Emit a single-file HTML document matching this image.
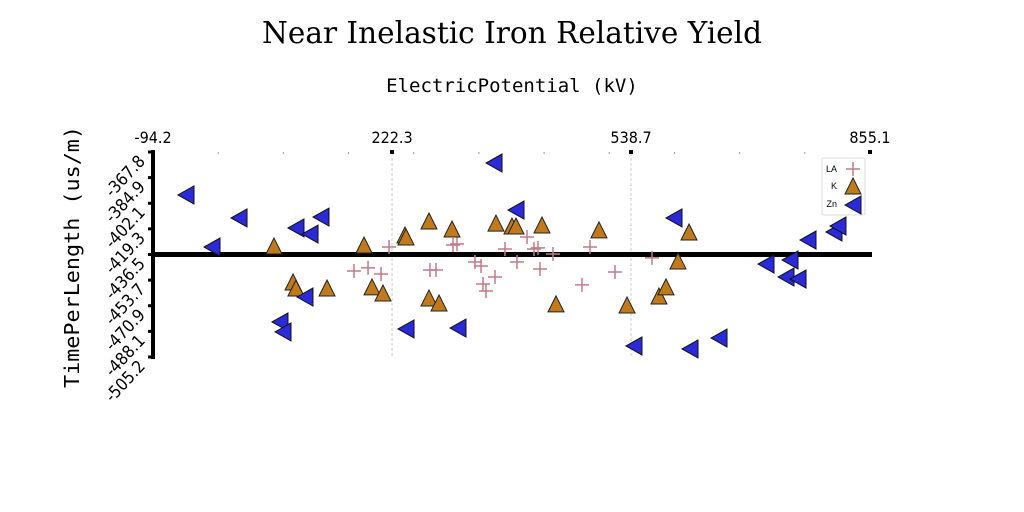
<!DOCTYPE html>
<html><head><meta charset="utf-8"><style>
body{margin:0;background:#fff;width:1024px;height:512px;overflow:hidden}
svg{display:block}
</style></head><body>
<svg id="c" width="1024" height="512" xmlns="http://www.w3.org/2000/svg">
<text x="512" y="43" text-anchor="middle" font-family="DejaVu Serif, serif" font-size="30" textLength="500" lengthAdjust="spacingAndGlyphs">Near Inelastic Iron Relative Yield</text>
<text x="512" y="92" text-anchor="middle" font-family="DejaVu Sans Mono, monospace" font-size="19">ElectricPotential (kV)</text>
<text transform="translate(79,257) rotate(-90)" text-anchor="middle" font-family="DejaVu Sans Mono, monospace" font-size="20" textLength="262" lengthAdjust="spacingAndGlyphs">TimePerLength (us/m)</text>
<g id="axes"></g><g id="marks"></g>
<g>
<rect x="822" y="158" width="43" height="57" rx="2" fill="#fff" stroke="#ddd"/>
<text x="837" y="172" text-anchor="end" font-family="Liberation Sans, sans-serif" font-size="9">LA</text>
<text x="837" y="189" text-anchor="end" font-family="Liberation Sans, sans-serif" font-size="9">K</text>
<text x="837" y="207" text-anchor="end" font-family="Liberation Sans, sans-serif" font-size="9">Zn</text>
<g id="leg"></g>
</g>
</svg>
<script>
const xTicks=["-94.2","222.3","538.7","855.1"];
const xTickVals=[-94.2,222.3,538.7,855.1];
const yTicks=["-367.8","-384.9","-402.1","-419.3","-436.5","-453.7","-470.9","-488.1","-505.2"];
const laX=[171.9,190.5,207.7,218.3,272.5,280.5,303.0,308.3,332.1,340.1,342.7,346.7,358.6,371.8,387.7,401.0,410.2,415.5,418.2,435.4,473.8,484.4,517.5,566.5];
const laY=[-447.6,-445.5,-449.6,-431.5,-446.9,-446.9,-430.1,-429.5,-441.5,-444.2,-456.3,-461.0,-451.6,-432.8,-441.5,-424.8,-432.8,-432.1,-446.2,-436.2,-456.9,-431.5,-448.2,-438.8];
const kX=[66.0,91.2,95.1,136.2,185.2,195.8,210.3,239.4,240.8,271.2,271.2,284.5,301.7,359.9,381.1,386.4,420.8,439.4,496.3,533.4,575.7,585.0,600.9,615.5];
const kY=[-431.5,-455.6,-459.6,-459.6,-430.8,-458.9,-463.0,-424.1,-425.4,-414.7,-466.3,-469.7,-420.1,-416.1,-418.1,-418.1,-417.4,-470.3,-420.7,-471.0,-465.0,-458.9,-441.5,-422.1];
const znX=[-50.5,-16.1,19.7,95.1,113.7,128.2,73.9,77.9,107.0,240.8,309.6,357.3,386.4,542.6,595.6,616.8,655.2,717.4,749.2,743.9,759.8,773.0,807.4,812.7];
const znY=[-396.6,-431.5,-412.0,-418.7,-422.8,-411.4,-481.7,-488.4,-465.0,-486.4,-485.8,-375.2,-406.7,-497.8,-412.0,-499.8,-492.5,-442.9,-440.2,-451.6,-452.9,-426.8,-421.4,-417.4];
const refY=-436.5;
const X0=153,X1=870,Y0=152,Y1=357,xMin=-94.2,xMax=855.1,yTop=-367.8,yBot=-505.2;
const sx=v=>X0+(v-xMin)/(xMax-xMin)*(X1-X0);
const sy=v=>Y0+(yTop-v)/(yTop-yBot)*(Y1-Y0);
const NS="http://www.w3.org/2000/svg";
function mk(t,a,p){const e=document.createElementNS(NS,t);for(const k in a)e.setAttribute(k,a[k]);p.appendChild(e);return e;}
const ax=document.getElementById('axes'),mg=document.getElementById('marks'),lg=document.getElementById('leg');
for(let i=0;i<=11;i++){const e=mk('rect',{x:X0+i*(X1-X0)/11-0.5,y:152,width:1,height:2,fill:'#999'},ax);

}
xTicks.forEach((t,i)=>{const x=sx(xTickVals[i]);
if(i>0&&i<xTicks.length-1){const g=mk('line',{x1:x,y1:153,x2:x,y2:Y1+1,stroke:'#ccc','stroke-dasharray':'3,2','stroke-width':1},ax);

}
const m=mk('rect',{x:x-2,y:150,width:4,height:4,fill:'#000'},ax);


const tx=mk('text',{x:x,y:143,'text-anchor':'middle','font-family':'DejaVu Sans Condensed, DejaVu Sans, sans-serif','font-size':'16'},ax);tx.textContent=t;

});
const ya=mk('line',{x1:X0,y1:Y0-2,x2:X0,y2:Y1+2,stroke:'#000','stroke-width':4},ax);


yTicks.forEach((t,i)=>{const y=Y0+i*(Y1-Y0)/(yTicks.length-1);
const m=mk('rect',{x:X0-5,y:y-1.5,width:4,height:3,fill:'#000'},ax);


const tx=mk('text',{transform:`translate(${X0-7},${y+10}) rotate(-47)`,'text-anchor':'end','font-family':'DejaVu Sans Condensed, DejaVu Sans, sans-serif','font-size':'17'},ax);tx.textContent=t;

});
const rl=mk('line',{x1:X0,y1:sy(refY),x2:872,y2:sy(refY),stroke:'#000','stroke-width':5},ax);


function plus(x,y,p){const g=mk('path',{d:`M${x-7},${y}H${x+7}M${x},${y-7}V${y+7}`,stroke:'#c07c88','stroke-width':1.5,fill:'none'},p);return g;}
function tri(x,y,p){return mk('path',{d:`M${x},${y-9}L${x+8},${y+7}L${x-8},${y+7}Z`,fill:'#c07a1c',stroke:'#222','stroke-width':1},p);}
function ltri(x,y,p){return mk('path',{d:`M${x-8},${y}L${x+8},${y-9}L${x+8},${y+9}Z`,fill:'#2a2ad8',stroke:'#111','stroke-width':1},p);}
laX.forEach((v,i)=>{const e=plus(sx(v),sy(laY[i]),mg);

});
kX.forEach((v,i)=>{const e=tri(sx(v),sy(kY[i]),mg);

});
znX.forEach((v,i)=>{const e=ltri(sx(v),sy(znY[i]),mg);

});
let e1=plus(853,169,lg);


let e2=tri(853,187,lg);


let e3=ltri(853,205,lg);


</script>
</body></html>
